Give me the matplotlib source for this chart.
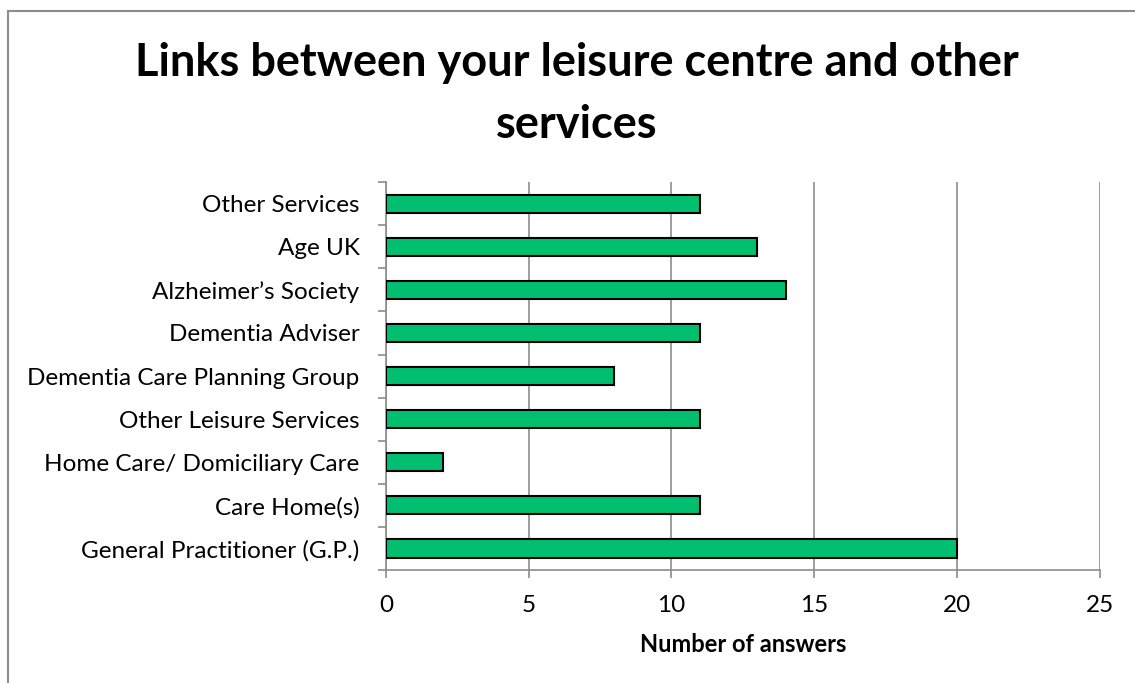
import matplotlib.pyplot as plt
from matplotlib.patches import Rectangle

services = ["General Practitioner (G.P.)", "Care Home(s)", "Home Care/ Domiciliary Care",
            "Other Leisure Services", "Dementia Care Planning Group", "Dementia Adviser",
            "Alzheimer\u2019s Society", "Age UK", "Other Services"]
answers = [20, 11, 2, 11, 8, 11, 14, 13, 11]
xticks = [0, 5, 10, 15, 20, 25]

plt.rcParams['font.family'] = ['Lato', 'DejaVu Sans']

fig = plt.figure(figsize=(11.35, 6.83), dpi=100)
ax = fig.add_axes([0.340, 0.1654, 0.629, 0.568])

# outer chart frame
fig.patches.append(Rectangle((8 / 1135, -0.05), 1.2, 1 - 11 / 683 + 0.05,
                             transform=fig.transFigure, fill=False,
                             edgecolor="#8c8c8c", linewidth=1.5))

ax.barh(range(len(services)), answers, height=0.42, color="#00C06F",
        edgecolor="black", linewidth=1.5, zorder=3)

ax.set_xlim(0, 25)
ax.set_ylim(-0.5, len(services) - 0.5)
ax.set_xticks(xticks)
ax.set_xticklabels([str(t) for t in xticks], fontsize=17.5)
ax.set_yticks([i - 0.5 for i in range(len(services) + 1)], minor=False)
ax.set_yticklabels([])
ax.set_yticks(range(len(services)), minor=True)
ax.set_yticklabels(services, minor=True, fontsize=17.5)
ax.tick_params(axis='y', which='minor', length=0, pad=19)
ax.tick_params(axis='y', which='major', length=6, color="#8c8c8c", width=1.2)
ax.tick_params(axis='x', length=6, color="#8c8c8c", width=1.2, pad=12)

ax.grid(axis='x', color="#8c8c8c", linewidth=1.2, zorder=0)
for s in ["top", "right"]:
    ax.spines[s].set_visible(False)
for s in ["left", "bottom"]:
    ax.spines[s].set_color("#8c8c8c")
    ax.spines[s].set_linewidth(1.2)

ax.set_xlabel("Number of answers", fontsize=17, fontweight="bold", labelpad=12)

fig.text(0.508, 1 - 63 / 683, "Links between your leisure centre and other",
         ha="center", va="center", fontsize=32.5, fontweight="bold")
fig.text(0.508, 1 - 125 / 683, "services",
         ha="center", va="center", fontsize=32.5, fontweight="bold")

fig.savefig("out.png", dpi=100)
